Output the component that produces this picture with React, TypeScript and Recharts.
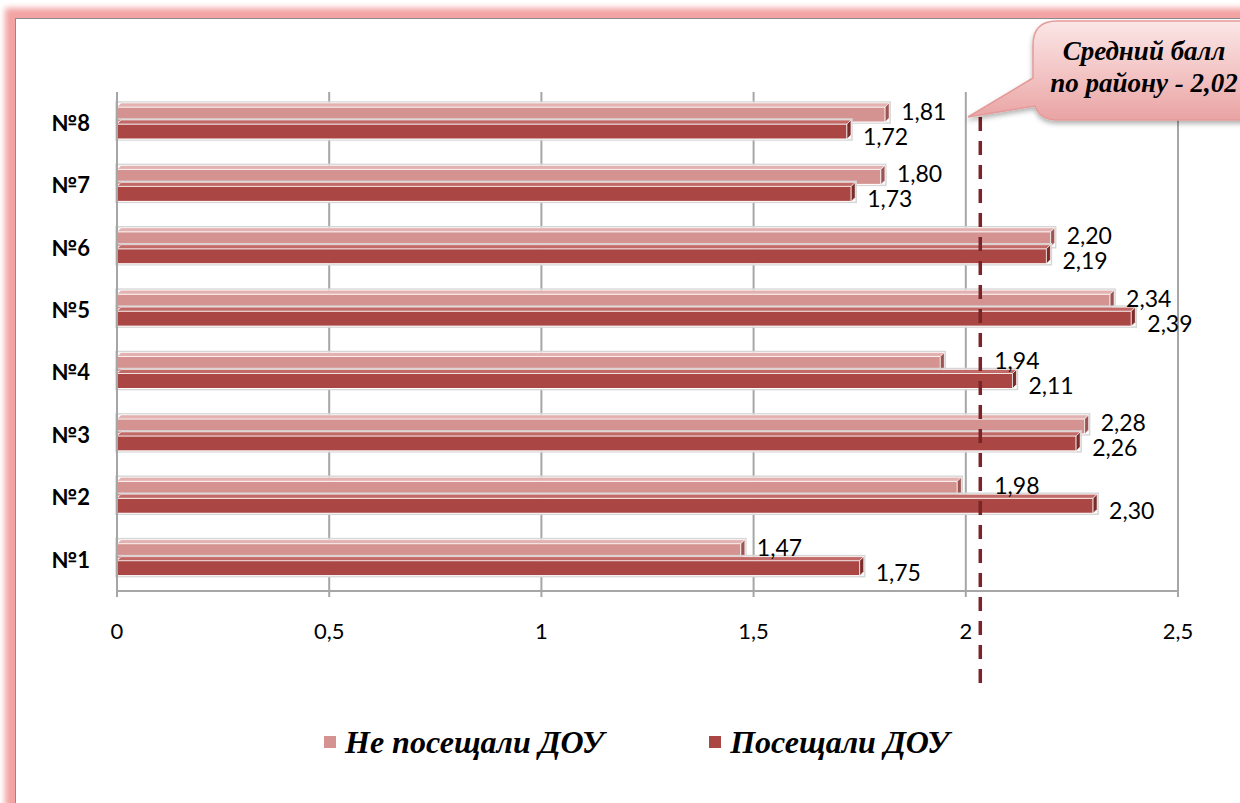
import React from 'react';
import { BarChart, Bar, XAxis, YAxis, CartesianGrid, ReferenceLine, LabelList } from 'recharts';

const categories = ['№8', '№7', '№6', '№5', '№4', '№3', '№2', '№1'];
const notAttended = [1.81, 1.8, 2.2, 2.34, 1.94, 2.28, 1.98, 1.47];
const attended = [1.72, 1.73, 2.19, 2.39, 2.11, 2.26, 2.3, 1.75];
const xTicks = [0, 0.5, 1, 1.5, 2, 2.5];
const districtAverage = 2.02;
const seriesNames = ['Не посещали ДОУ', 'Посещали ДОУ'];
const calloutLines = ['Средний балл', 'по району - 2,02'];

const LIGHT = '#d49391';
const DARK = '#aa4644';

const data = categories.map((name, i) => ({ name, notAttended: notAttended[i], attended: attended[i] }));

const fmt = (v: number) => (Number.isInteger(v) ? String(v) : String(v).replace('.', ','));
const fmt2 = (v: number) => v.toFixed(2).replace('.', ',');

const Bar3D = (props: any) => {
  const { x, y, width, height, fill, side, top } = props;
  const d = 4;
  return (
    <g>
      <rect x={x - 1} y={y - d - 1} width={width + d + 2} height={height + d + 2} fill="none" stroke="#d6d6d6" strokeWidth={1.5} />
      <rect x={x} y={y} width={width} height={height} fill={fill} stroke="#fff" strokeWidth={1} />
      <polygon points={`${x},${y} ${x + d},${y - d} ${x + width + d},${y - d} ${x + width},${y}`} fill={top} stroke="#fff" strokeWidth={0.6} />
      <polygon points={`${x + width},${y} ${x + width + d},${y - d} ${x + width + d},${y + height - d} ${x + width},${y + height}`} fill={side} stroke="#fff" strokeWidth={0.6} />
    </g>
  );
};

const makeLabel = (dy: number) => (props: any) => {
  const { x, y, width, height, value } = props;
  let tx = x + width + 16;
  if (value > 0) {
    const avgPx = x + (districtAverage * width) / value + 6;
    if (tx < avgPx + 10 && tx + 46 > avgPx - 4) tx = avgPx + 14;
  }
  return (
    <text x={tx} y={y + height / 2 + dy} dominantBaseline="central" fontFamily="Lato" fontSize={23} fill="#000">
      {fmt2(value)}
    </text>
  );
};

const DashedAvg = (props: any) => {
  const { x1 } = props;
  const x = x1 + 6;
  return <line x1={x} y1={117} x2={x} y2={693} stroke="#7a2428" strokeWidth={3.5} strokeDasharray="14 10" />;
};

export default function App() {
  return (
    <div style={{ position: 'absolute', left: 0, top: 0, width: 1240, height: 803, overflow: 'hidden', background: '#fff' }}>
      <div
        style={{
          position: 'absolute',
          left: 15,
          top: 18,
          width: 1260,
          height: 820,
          border: '1.5px solid #8c8c8c',
          boxShadow: '0 0 6px 10px #f3a3a3',
          background: '#fff',
        }}
      />
      <div style={{ position: 'absolute', left: 0, top: 0 }}>
        <BarChart
          width={1240}
          height={803}
          data={data}
          layout="vertical"
          margin={{ top: 92, right: 62, bottom: 152, left: 0 }}
          barSize={15}
          barGap={2}
        >
          <CartesianGrid horizontal={false} vertical={true} stroke="#a6a6a6" strokeWidth={2} />
          <XAxis
            type="number"
            domain={[0, 2.5]}
            ticks={xTicks}
            tickFormatter={fmt}
            height={60}
            axisLine={{ stroke: '#a6a6a6', strokeWidth: 2 }}
            tickLine={{ stroke: '#a6a6a6', strokeWidth: 2 }}
            tickSize={6}
            tickMargin={26}
            tick={{ fill: '#000', fontFamily: 'Lato', fontSize: 22 }}
          />
          <YAxis
            type="category"
            dataKey="name"
            width={117}
            axisLine={{ stroke: '#a6a6a6', strokeWidth: 2 }}
            tickLine={false}
            tickMargin={21}
            tick={{ fill: '#000', fontFamily: 'Lato', fontSize: 22, fontWeight: 700 }}
          />
          <Bar
            dataKey="notAttended"
            name={seriesNames[0]}
            fill={LIGHT}
            isAnimationActive={false}
            shape={(p: any) => <Bar3D {...p} fill={LIGHT} side="#9c5553" top="#e3b2b0" />}
          >
            <LabelList dataKey="notAttended" content={makeLabel(-4)} />
          </Bar>
          <Bar
            dataKey="attended"
            name={seriesNames[1]}
            fill={DARK}
            isAnimationActive={false}
            shape={(p: any) => <Bar3D {...p} fill={DARK} side="#7a2c2a" top="#c26a68" />}
          >
            <LabelList dataKey="attended" content={makeLabel(4)} />
          </Bar>
          <ReferenceLine x={districtAverage} ifOverflow="visible" shape={(p: any) => <DashedAvg {...p} />} />
        </BarChart>
      </div>
      <svg width={1240} height={803} style={{ position: 'absolute', left: 0, top: 0, pointerEvents: 'none' }}>
        <defs>
          <linearGradient id="callGrad" x1="0" y1="0" x2="0" y2="1">
            <stop offset="0%" stopColor="#fbe6e6" />
            <stop offset="55%" stopColor="#f3c3c3" />
            <stop offset="100%" stopColor="#e9a3a3" />
          </linearGradient>
          <filter id="callShadow" x="-20%" y="-20%" width="140%" height="160%">
            <feDropShadow dx="0" dy="3" stdDeviation="2.5" floodColor="#000" floodOpacity="0.3" />
          </filter>
        </defs>
        <path
          d="M 1057 21 L 1262 21 L 1262 120 L 1057 120 Q 1040 120 1035 106 L 968 117 L 1033 78 L 1033 45 Q 1033 21 1057 21 Z"
          fill="url(#callGrad)"
          stroke="#e59a9a"
          strokeWidth={1.5}
          filter="url(#callShadow)"
        />
        <text x={1144} y={51} textAnchor="middle" dominantBaseline="central" fontFamily="Liberation Serif" fontStyle="italic" fontWeight={700} fontSize={27} fill="#000">
          {calloutLines[0]}
        </text>
        <text x={1144} y={83} textAnchor="middle" dominantBaseline="central" fontFamily="Liberation Serif" fontStyle="italic" fontWeight={700} fontSize={27} fill="#000">
          {calloutLines[1]}
        </text>
      </svg>
      <div style={{ position: 'absolute', left: 323, top: 721, display: 'flex', alignItems: 'center', gap: 104 }}>
        {seriesNames.map((n, i) => (
          <div key={n} style={{ display: 'flex', alignItems: 'center' }}>
            <span style={{ display: 'inline-block', width: 12, height: 12, background: i === 0 ? LIGHT : DARK, border: '1px solid #fff', marginRight: 8 }} />
            <span style={{ fontFamily: 'Liberation Serif', fontStyle: 'italic', fontWeight: 700, fontSize: 32, color: '#000', lineHeight: '42px' }}>{n}</span>
          </div>
        ))}
      </div>
    </div>
  );
}
